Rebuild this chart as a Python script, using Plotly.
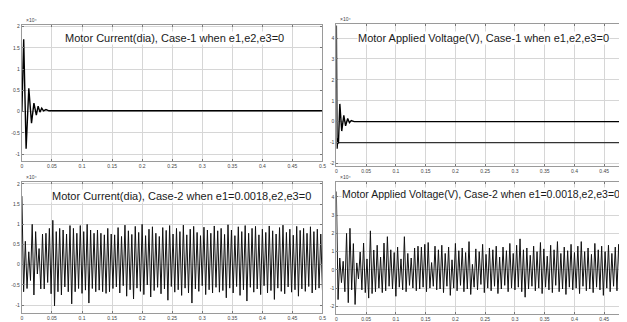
import plotly.graph_objects as go

# ---------------- data (values in units of 1e4) ----------------
# Case-1 current transient (time s, value)
cur1_t = [0, 0.003, 0.007, 0.0115, 0.016, 0.020, 0.024, 0.027, 0.030, 0.033, 0.036, 0.040, 0.045, 0.5]
cur1_v = [0.0, 1.70, -0.87, 0.55, -0.27, 0.20, -0.08, 0.13, -0.01, 0.08, 0.02, 0.05, 0.02, 0.02]

# Case-1 voltage transient
volt1_t = [0, 0.0012, 0.0025, 0.0035, 0.0058, 0.009, 0.0125, 0.0155, 0.019, 0.022, 0.025, 0.03, 0.5]
volt1_v = [4.6, -1.30, -0.80, -1.05, 0.85, -0.45, 0.30, -0.20, 0.15, -0.05, 0.05, 0.0, 0.0]
volt1_ref_t = [0, 0.5]
volt1_ref_v = [-1.0, -1.0]

# Case-2 current: successive peaks and troughs
cur2_peaks = [1.70, 0.58, 0.32, 1.00, 0.82, 0.40, 0.76, 0.78, 0.90, 1.10, 0.82, 0.90, 0.86, 0.76,
              0.97, 0.90, 0.78, 0.97, 0.82, 1.00, 0.86, 0.78, 0.86, 0.78, 0.74, 0.90, 0.76, 0.74,
              0.92, 0.70, 0.98, 0.84, 0.75, 0.95, 0.80, 1.00, 0.72, 0.88, 0.94, 0.78, 0.70, 0.92, 0.85,
              0.97, 0.76, 0.90, 0.82, 0.98, 0.74, 0.88, 0.95, 0.80, 0.72, 0.93, 0.86, 0.78, 0.96, 0.84,
              0.90, 0.75, 0.99, 0.86, 0.72, 0.94, 0.82, 0.97, 0.78, 0.90, 0.95, 0.74, 0.88, 0.80, 0.96,
              0.84, 0.76, 0.92, 0.98, 0.80, 0.88, 0.73, 0.95, 0.85, 0.90, 0.78, 0.94, 0.82, 0.88, 0.76]
cur2_troughs = [-0.67, -0.59, -0.39, -0.75, -0.23, -0.60, -0.60, -0.44, -0.72, -1.02, -0.67, -0.75, -0.55, -0.67,
                -0.97, -0.67, -0.59, -0.71, -0.63, -0.95, -0.59, -0.67, -0.63, -0.67, -0.71, -0.67, -0.59, -0.55,
                -0.70, -0.52, -0.78, -0.62, -0.85, -0.58, -0.66, -0.74, -0.50, -0.80, -0.64, -0.56, -0.72, -0.60, -0.88,
                -0.54, -0.68, -0.62, -0.76, -0.58, -0.70, -0.95, -0.60, -0.66, -0.52, -0.74, -0.62, -0.70, -0.56, -0.68,
                -0.64, -0.82, -0.58, -0.70, -0.54, -0.76, -0.62, -0.90, -0.56, -0.68, -0.60, -0.74, -0.52, -0.70, -0.64,
                -0.86, -0.58, -0.66, -0.72, -0.55, -0.68, -0.62, -0.78, -0.60, -0.66, -0.54, -0.70, -0.62, -0.58, -0.64]

# Case-2 voltage: successive peaks and troughs
volt2_peaks = [4.30, 0.65, 0.47, 2.00, 2.28, 1.44, 0.38, 0.98, 1.47, 0.60, 2.14, 1.09, 1.35, 0.70, 1.47,
               1.82, 1.10, 0.95, 1.25, 0.60, 1.82, 0.90, 0.65, 1.20, 1.30, 1.25, 1.40, 1.50, 0.40, 1.30,
               1.10, 1.35, 0.90, 1.25, 0.55, 1.45, 1.05, 1.20, 0.95, 1.55, 0.30, 1.15, 1.00, 1.40,
               0.85, 1.20, 1.10, 1.30, 0.70, 1.25, 1.05, 1.45, 0.90, 1.35, 1.70, 1.10, 1.20, 0.80,
               1.30, 1.00, 1.50, 1.15, 0.75, 1.35, 1.10, 1.55, 0.90, 1.25, 1.05, 1.40, 0.95, 1.30, 1.55,
               1.00, 1.20, 0.85, 1.45, 1.10, 1.30, 1.00, 1.35, 0.90, 1.25, 1.40, 1.05, 1.30, 1.15, 1.30]
volt2_troughs = [-1.63, -0.70, -1.20, -1.80, -1.10, -1.90, -0.50, -1.10, -1.25, -1.55, -1.30, -1.20, -1.00, -1.25, -1.15,
                 -0.90, -1.05, -1.45, -0.95, -1.10, -1.20, -0.85, -1.00, -1.15, -1.05, -0.95, -1.20, -1.00, -0.90, -1.10,
                 -1.05, -1.25, -0.90, -1.40, -1.00, -1.15, -0.85, -1.20, -1.05, -1.35, -0.95, -1.10, -0.80, -1.25,
                 -1.00, -1.15, -0.90, -1.30, -1.05, -0.85, -1.20, -1.00, -1.10, -0.95, -1.20, -1.50, -1.05, -0.90,
                 -1.15, -1.00, -1.30, -0.95, -1.10, -1.25, -0.85, -1.20, -1.05, -1.35, -0.95, -1.10, -1.00, -1.30, -0.90,
                 -1.15, -1.05, -1.25, -0.95, -1.10, -1.40, -1.00, -1.20, -0.90, -1.15, -1.05, -1.25, -0.95, -1.10, -1.00]

sim_end = 0.5

titles = ["Motor Current(dia), Case-1 when e1,e2,e3=0",
          "Motor Applied Voltage(V), Case-1 when e1,e2,e3=0",
          "Motor Current(dia), Case-2 when e1=0.0018,e2,e3=0",
          "Motor Applied Voltage(V), Case-2 when e1=0.0018,e2,e3=0"]

x_ticks = [0, 0.05, 0.1, 0.15, 0.2, 0.25, 0.3, 0.35, 0.4, 0.45, 0.5]
x_ticklabels = ["0", "0.05", "0.1", "0.15", "0.2", "0.25", "0.3", "0.35", "0.4", "0.45", "0.5"]
cur_yticks = [-1, -0.5, 0, 0.5, 1, 1.5, 2]
cur_yticklabels = ["-1", "-0.5", "0", "0.5", "1", "1.5", "2"]
volt_yticks = [-2, -1, 0, 1, 2, 3, 4]
volt_yticklabels = ["-2", "-1", "0", "1", "2", "3", "4"]
multiplier = "×10⁴"


def interleave(peaks, troughs):
    ys = []
    for p, t in zip(peaks, troughs):
        ys += [p, t]
    n = len(ys)
    xs = [sim_end * i / (n - 1) for i in range(n)]
    return xs, ys


cur2_t, cur2_v = interleave(cur2_peaks, cur2_troughs)
volt2_t, volt2_v = interleave(volt2_peaks, volt2_troughs)

W, H = 627, 322


def px_x(a, b):
    return [a / W, b / W]


def px_y(top, bottom):
    return [1 - bottom / H, 1 - top / H]


fig = go.Figure()
fig.add_trace(go.Scatter(x=cur1_t, y=cur1_v, mode="lines", line=dict(color="black", width=1.4),
                         xaxis="x", yaxis="y", showlegend=False))
fig.add_trace(go.Scatter(x=volt1_ref_t, y=volt1_ref_v, mode="lines", line=dict(color="#333333", width=1.2),
                         xaxis="x2", yaxis="y2", showlegend=False))
fig.add_trace(go.Scatter(x=volt1_t, y=volt1_v, mode="lines", line=dict(color="black", width=1.4),
                         xaxis="x2", yaxis="y2", showlegend=False))
fig.add_trace(go.Scatter(x=cur2_t, y=cur2_v, mode="lines", line=dict(color="#111111", width=1.0),
                         xaxis="x3", yaxis="y3", showlegend=False))
fig.add_trace(go.Scatter(x=volt2_t, y=volt2_v, mode="lines", line=dict(color="#111111", width=1.0),
                         xaxis="x4", yaxis="y4", showlegend=False))

tickfont = dict(family="Liberation Sans, Arial", size=5, color="#444444")
common = dict(showgrid=True, gridcolor="#d6d6d6", gridwidth=1, zeroline=False,
              showline=True, linecolor="#9a9a9a", linewidth=1, mirror="ticks",
              ticks="inside", ticklen=2, tickcolor="#777777", tickfont=tickfont)

layout_axes = {}
panels = [
    ("", px_x(13, 316), px_y(15, 152), [0, 0.5], [-1.15, 2.04], cur_yticks, cur_yticklabels),
    ("2", px_x(330, 627), px_y(14, 157), [0, 0.495], [-2.1, 4.68], volt_yticks, volt_yticklabels),
    ("3", px_x(13, 316), px_y(174, 306), [0, 0.5], [-1.2, 2.04], cur_yticks, cur_yticklabels),
    ("4", px_x(330, 627), px_y(174, 307), [0, 0.495], [-2.43, 4.8], volt_yticks, volt_yticklabels),
]
for suf, xd, yd, xr, yr, yt, ytl in panels:
    layout_axes["xaxis" + suf] = dict(domain=xd, range=xr, anchor="y" + suf,
                                      tickvals=x_ticks, ticktext=x_ticklabels, **common)
    layout_axes["yaxis" + suf] = dict(domain=yd, range=yr, anchor="x" + suf,
                                      tickvals=yt, ticktext=ytl, **common)

fig.update_layout(width=W, height=H, margin=dict(l=0, r=0, t=0, b=0),
                  paper_bgcolor="white", plot_bgcolor="white", **layout_axes)

title_pos = [(167, 28), (478, 28), (174, 188), (476, 186)]
title_sizes = [11, 11, 11, 10.5]
for txt, (cx, cy), fs in zip(titles, title_pos, title_sizes):
    fig.add_annotation(text=txt, x=cx / W, y=1 - cy / H, xref="paper", yref="paper",
                       xanchor="center", yanchor="middle", showarrow=False,
                       bgcolor="white", borderpad=0,
                       font=dict(family="Liberation Sans, Arial", size=fs, color="#1a1a1a"))

for (_, xd, yd, *_rest) in panels:
    fig.add_annotation(text=multiplier, x=xd[0] + 2 / W, y=yd[1], xref="paper", yref="paper",
                       xanchor="left", yanchor="bottom", showarrow=False,
                       font=dict(family="Liberation Sans, Arial", size=5, color="#444444"))

fig.write_html("out.html")
